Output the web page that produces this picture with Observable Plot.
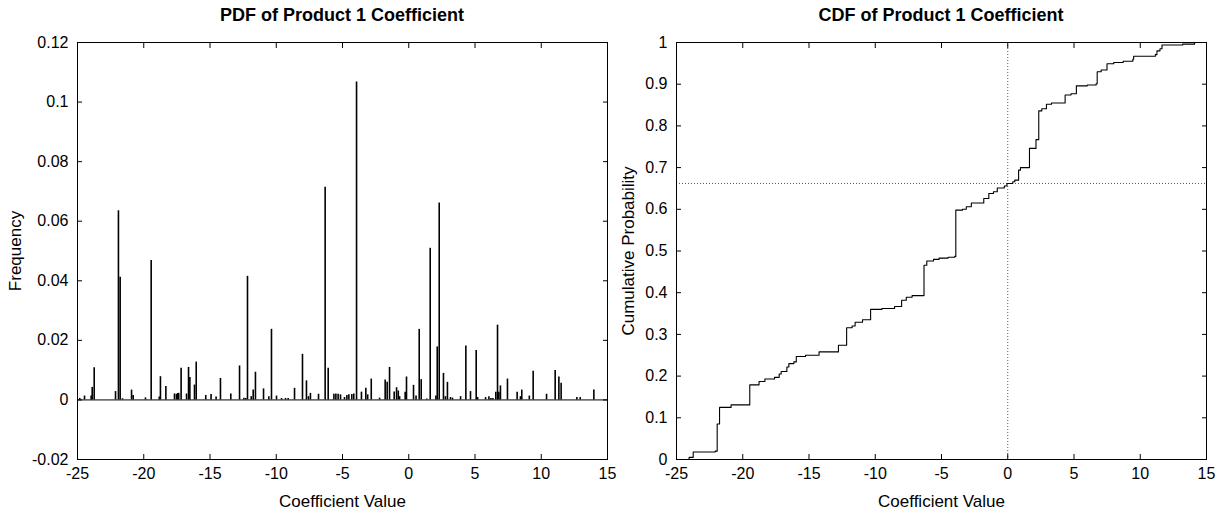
<!DOCTYPE html>
<html><head><meta charset="utf-8">
<script src="https://cdn.jsdelivr.net/npm/d3@7"></script>
<script src="https://cdn.jsdelivr.net/npm/@observablehq/plot@0.6"></script>
<style>
body{margin:0;background:#fff;font-family:"Liberation Sans",Arial,sans-serif;}
#wrap{position:relative;width:1216px;height:509px;overflow:hidden;}
.panel{position:absolute;top:0;width:608px;height:509px;}
.title{position:absolute;top:4px;height:22px;line-height:22px;font-size:18px;font-weight:bold;text-align:center;color:#000;white-space:nowrap;}
.panel svg{position:absolute;top:34px;left:0;overflow:visible;}
.panel svg g[aria-label="x-axis label"], .panel svg g[aria-label="y-axis label"]{font-size:17px;}
</style>
</head><body>
<div id="wrap">
  <div class="panel" id="p2" style="left:608px"><div class="title" style="left:68px;width:530px">CDF of Product 1 Coefficient</div></div>
  <div class="panel" id="p1" style="left:0"><div class="title" style="left:77px;width:530px">PDF of Product 1 Coefficient</div></div>
</div>
<script>
// ---- data ----
const xTicks = [-25, -20, -15, -10, -5, 0, 5, 10, 15];
const pdfYTicks = [-0.02, 0, 0.02, 0.04, 0.06, 0.08, 0.1, 0.12];
const cdfYTicks = [0, 0.1, 0.2, 0.3, 0.4, 0.5, 0.6, 0.7, 0.8, 0.9, 1];

const pdfX = [-24.83,-24.47,-23.97,-23.89,-23.74,-22.13,-21.91,-21.78,-21.6,-20.92,-20.8,-19.87,-19.44,-18.83,-18.74,-18.33,-17.68,-17.53,-17.43,-17.36,-17.18,-16.77,-16.62,-16.52,-16.17,-16.04,-15.32,-14.92,-14.54,-14.21,-13.43,-12.77,-12.44,-12.3,-12.17,-11.89,-11.74,-11.57,-10.96,-10.56,-10.36,-9.98,-9.6,-9.3,-9.1,-8.62,-8.02,-7.72,-7.57,-7.42,-6.81,-6.31,-6.08,-5.65,-5.5,-5.33,-5.15,-4.85,-4.67,-4.52,-4.3,-4.15,-3.94,-3.57,-3.24,-3.1,-2.83,-2.2,-1.78,-1.63,-1.45,-1.1,-0.92,-0.79,-0.69,-0.27,-0.17,0.36,0.55,0.79,0.94,1.36,1.62,2.05,2.15,2.30,2.62,2.77,2.92,3.15,3.3,3.91,4.31,4.66,5.09,5.2,5.8,6.05,6.2,6.35,6.57,6.70,6.8,6.92,7.45,8.18,8.43,8.53,9.1,9.39,10.4,11.05,11.33,11.5,12.69,12.94,13.97];
const pdfH = [0.0005,0.0013,0.0013,0.0042,0.0108,0.0028,0.0635,0.0412,0.0004,0.0033,0.0015,0.0007,0.0468,0.001,0.0078,0.0045,0.002,0.0019,0.0022,0.0022,0.0106,0.002,0.0109,0.0075,0.005,0.0127,0.0015,0.0018,0.001,0.0072,0.002,0.0114,0.0006,0.0005,0.0415,0.0011,0.0033,0.0093,0.0037,0.0011,0.0237,0.0013,0.0005,0.0005,0.0005,0.0039,0.0153,0.0064,0.0011,0.0022,0.0019,0.0714,0.0106,0.0019,0.002,0.0019,0.0017,0.0008,0.0015,0.0017,0.0018,0.002,0.1067,0.0026,0.0039,0.0017,0.007,0.0006,0.0067,0.0059,0.0109,0.0027,0.0041,0.003,0.0011,0.0026,0.0077,0.0049,0.0013,0.0237,0.0068,0.0003,0.0509,0.0013,0.0178,0.0661,0.0089,0.0011,0.0059,0.0008,0.0006,0.0011,0.0181,0.0028,0.0166,0.0008,0.0008,0.0011,0.0005,0.0005,0.0026,0.0251,0.0026,0.0047,0.007,0.0026,0.0011,0.0033,0.0013,0.0096,0.0019,0.0099,0.0077,0.0056,0.0008,0.0008,0.0033];

const cdfX = [-25,-24.05,-23.74,-22.08,-21.93,-21.75,-20.88,-19.47,-18.77,-18.33,-17.6,-17.25,-17.1,-16.67,-16.52,-16.14,-15.96,-15.26,-14.24,-12.78,-12.16,-11.75,-11.52,-10.96,-10.35,-9.5,-8.54,-8.01,-7.66,-7.22,-6.32,-6.11,-5.6,-5.18,-4.5,-4.0,-3.92,-3.42,-3.13,-2.75,-1.81,-1.43,-1.08,-0.79,-0.26,-0.06,0.38,0.53,0.82,0.96,1.64,2.13,2.34,2.57,2.92,3.3,4.33,4.77,5.18,6.0,6.67,6.75,7.05,7.49,8.0,8.71,9.44,9.5,11.14,11.26,11.49,11.64,13.2,14.1,15];
const cdfP = [0,0.005,0.018,0.020,0.085,0.125,0.131,0.179,0.187,0.193,0.197,0.205,0.211,0.222,0.230,0.234,0.247,0.250,0.258,0.274,0.316,0.320,0.329,0.335,0.360,0.362,0.367,0.382,0.389,0.393,0.466,0.476,0.480,0.483,0.485,0.487,0.598,0.600,0.606,0.615,0.626,0.638,0.642,0.651,0.656,0.662,0.666,0.670,0.694,0.700,0.746,0.767,0.836,0.841,0.852,0.855,0.874,0.877,0.896,0.898,0.901,0.930,0.934,0.949,0.952,0.955,0.960,0.967,0.971,0.980,0.985,0.994,0.996,1.0,1.0];

const crossX = [0];
const crossP = [0.662];

// ---- build ----
const pdf = pdfX.map((x, i) => ({x, h: pdfH[i]}));
const cdf = cdfX.map((x, i) => ({x, p: cdfP[i]}));
const fmt = d => String(+d.toFixed(2));
const blank = () => "";
const font = "'Liberation Sans', Arial, sans-serif";
const T = 5; // inward tick length

function axes(yTicks, yLabel, yOff) {
  return [
    Plot.frame({stroke: "#000", strokeWidth: 1}),
    // inward ticks (drawn outward, then shifted inside the frame)
    Plot.axisX({anchor: "bottom", ticks: xTicks, tickSize: T, dy: -T, tickFormat: blank, label: null}),
    Plot.axisX({anchor: "top", ticks: xTicks, tickSize: T, dy: T, tickFormat: blank, label: null}),
    Plot.axisY({anchor: "left", ticks: yTicks, tickSize: T, dx: T, tickFormat: blank, label: null}),
    Plot.axisY({anchor: "right", ticks: yTicks, tickSize: T, dx: -T, tickFormat: blank, label: null}),
    // tick labels and axis titles
    Plot.axisX({anchor: "bottom", ticks: xTicks, tickSize: 0, tickPadding: 8, tickFormat: fmt, fontSize: 16,
      label: "Coefficient Value", labelAnchor: "center", labelOffset: 47, labelArrow: "none"}),
    Plot.axisY({anchor: "left", ticks: yTicks, tickSize: 0, tickPadding: 9, tickFormat: fmt, fontSize: 16,
      label: yLabel, labelAnchor: "center", labelOffset: yOff, labelArrow: "none"})
  ];
}

const p1 = Plot.plot({
  width: 608, height: 475,
  marginTop: 8, marginLeft: 77, marginRight: 1, marginBottom: 50,
  style: {fontFamily: font, fontSize: "16px", color: "#000", background: "transparent", overflow: "visible"},
  x: {domain: [-25, 15]},
  y: {domain: [-0.02, 0.12]},
  marks: [
    Plot.ruleX(pdf, {x: "x", y1: 0, y2: "h", stroke: "#000", strokeWidth: 1.6}),
    Plot.ruleY([0], {stroke: "#000", strokeWidth: 1}),
    ...axes(pdfYTicks, "Frequency", 69)
  ]
});
document.getElementById("p1").appendChild(p1);

const p2 = Plot.plot({
  width: 608, height: 475,
  marginTop: 8, marginLeft: 68, marginRight: 10, marginBottom: 50,
  style: {fontFamily: font, fontSize: "16px", color: "#000", background: "transparent", overflow: "visible"},
  x: {domain: [-25, 15]},
  y: {domain: [0, 1]},
  marks: [
    Plot.ruleX(crossX, {stroke: "#555", strokeWidth: 1, strokeDasharray: "1,2"}),
    Plot.ruleY(crossP, {stroke: "#555", strokeWidth: 1, strokeDasharray: "1,2"}),
    Plot.line(cdf, {x: "x", y: "p", curve: "step-after", stroke: "#000", strokeWidth: 1.1}),
    ...axes(cdfYTicks, "Cumulative Probability", 55)
  ]
});
document.getElementById("p2").appendChild(p2);
</script>
</body></html>
